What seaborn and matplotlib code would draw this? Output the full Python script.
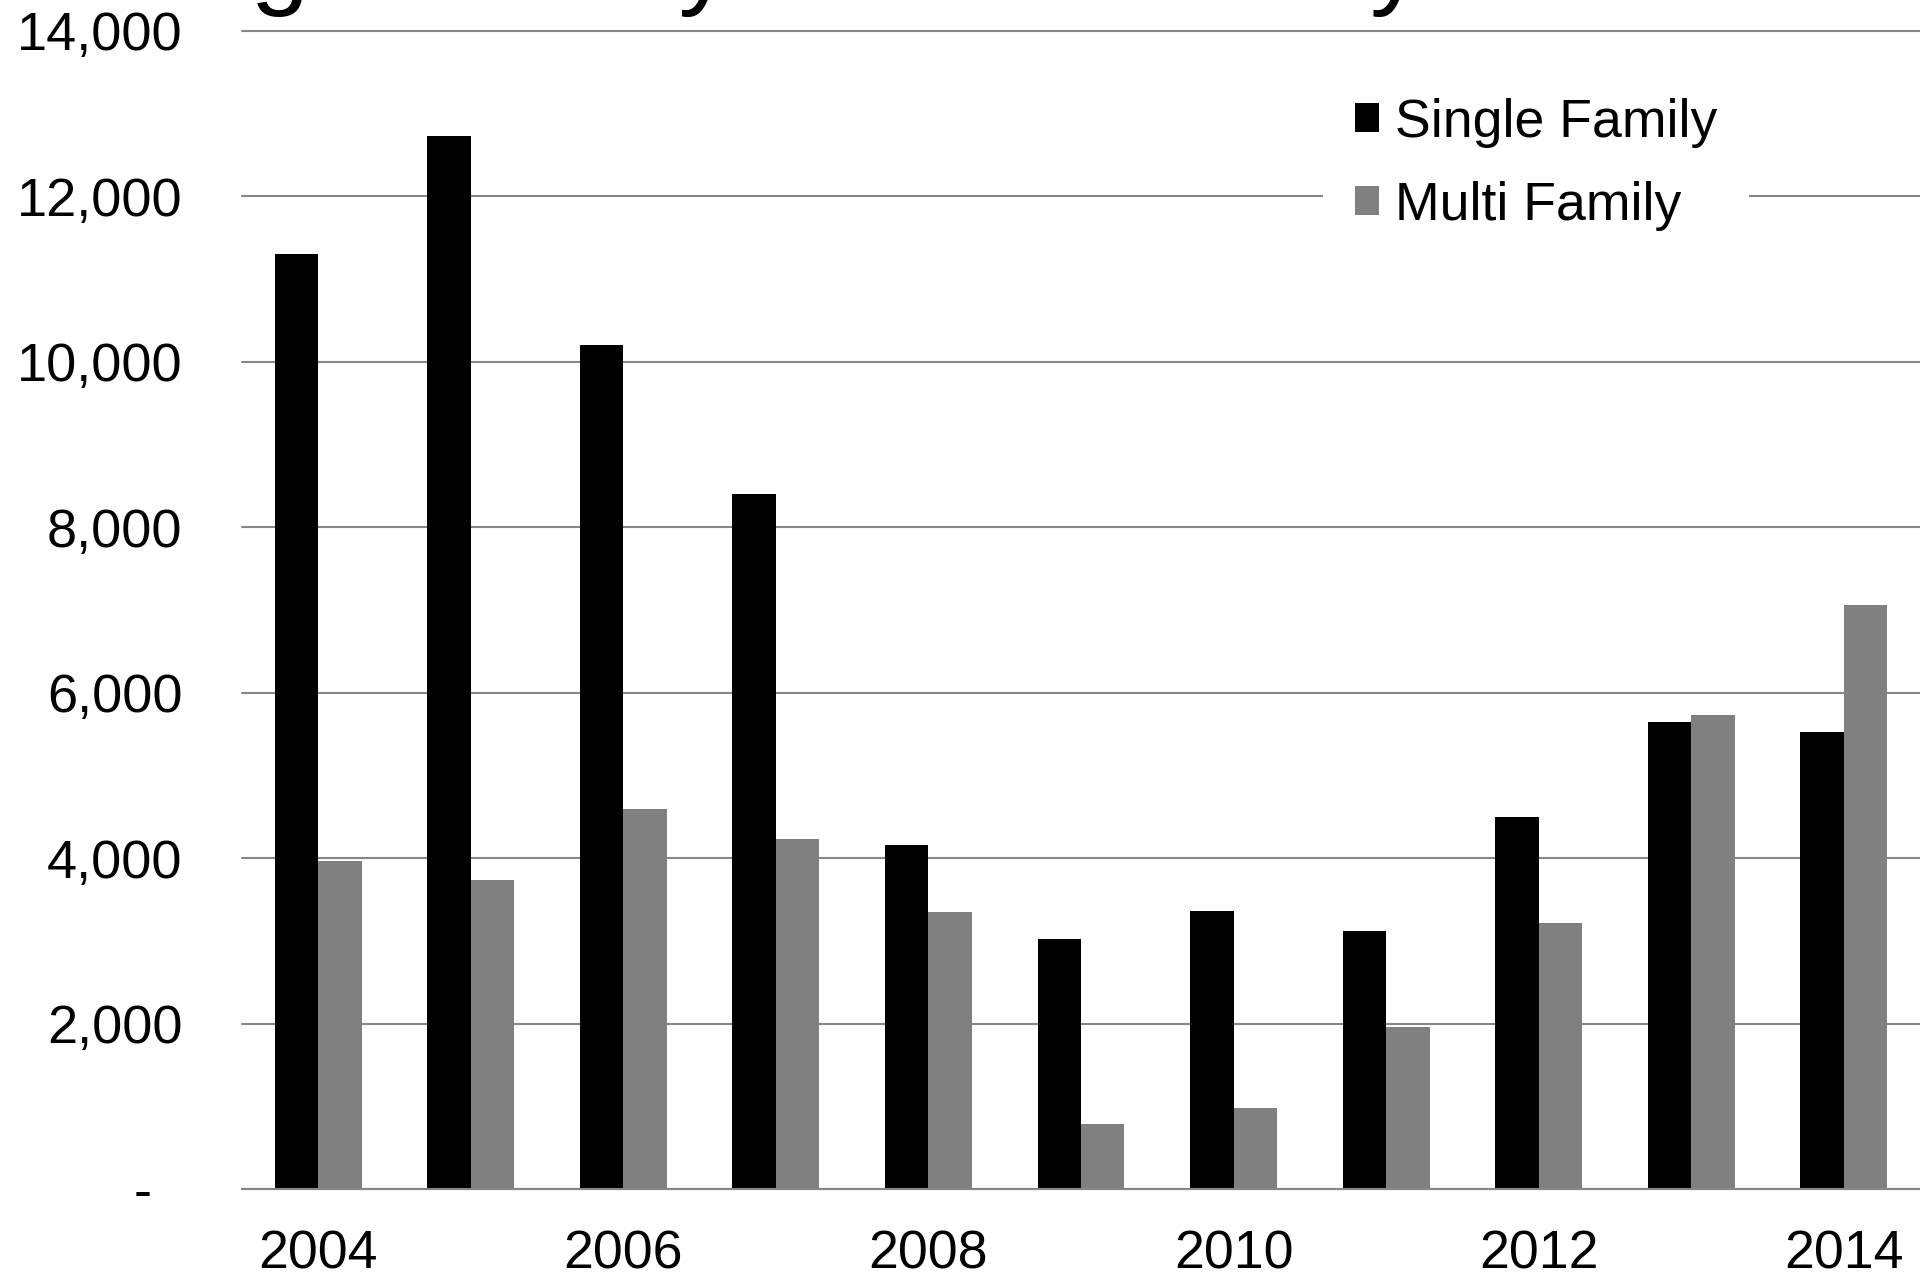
import matplotlib
matplotlib.use('Agg')
import matplotlib.pyplot as plt
import seaborn as sns
import pandas as pd

# Data
years = [2004, 2005, 2006, 2007, 2008, 2009, 2010, 2011, 2012, 2013, 2014]
single_family = [11300, 12730, 10200, 8400, 4160, 3020, 3360, 3120, 4490, 5640, 5520]
multi_family = [3970, 3740, 4590, 4230, 3345, 785, 980, 1955, 3220, 5730, 7055]
series = ['Single Family', 'Multi Family']
ytick_vals = [0, 2000, 4000, 6000, 8000, 10000, 12000, 14000]
ytick_labels = ['-  ', '2,000', '4,000', '6,000', '8,000', '10,000', '12,000', '14,000']
title = 'Single Family vs. Multifamily'

df = pd.DataFrame({
    'year': years * 2,
    'value': single_family + multi_family,
    'type': [series[0]] * len(years) + [series[1]] * len(years),
})

sns.set_style('white')
plt.rcParams['font.family'] = ['Liberation Sans', 'DejaVu Sans']
plt.rcParams['text.color'] = 'black'
plt.rcParams['xtick.color'] = 'black'
plt.rcParams['ytick.color'] = 'black'

W, H = 1920, 1276
fig = plt.figure(figsize=(W / 100, H / 100), dpi=100)
left, bottom, top = 242, 1189, 30.6
ax = fig.add_axes([left / W, (H - bottom) / H, 1 - left / W, (bottom - top) / H])

sns.barplot(data=df, x='year', y='value', hue='type', ax=ax,
            palette=['#000000', '#808080'], width=0.57, gap=0,
            saturation=1, edgecolor='none', linewidth=0)

ax.set_xlim(-0.5, len(years) - 0.5)
ax.set_ylim(0, 14000)
ax.set_xlabel('')
ax.set_ylabel('')

# Only even years labelled
ax.set_xticks(range(0, len(years), 2))
ax.set_xticklabels([str(y) for y in years[::2]], fontsize=38.6)
ax.set_yticks(ytick_vals)
ax.set_yticklabels(ytick_labels, fontsize=39)
ax.tick_params(axis='x', length=0, pad=29)
ax.tick_params(axis='y', length=0, pad=43)

ax.yaxis.grid(True, color='#868686', linewidth=1.5)
ax.set_axisbelow(True)
for line in ax.get_ygridlines():
    line.set_clip_on(False)
for s in ['top', 'right', 'left']:
    ax.spines[s].set_visible(False)
ax.spines['bottom'].set_color('#868686')
ax.spines['bottom'].set_linewidth(1.5)

handles, labels = ax.get_legend_handles_labels()
leg = ax.legend(handles, labels, loc='center', bbox_to_anchor=(0.800, 0.8712),
                bbox_transform=fig.transFigure, fontsize=38.6, frameon=True,
                facecolor='white', edgecolor='none', framealpha=1,
                handlelength=0.45, handleheight=0.45, handletextpad=0.3,
                labelspacing=0.62, borderpad=0.6)
leg.get_frame().set_linewidth(0)

# title, cut off at the top edge of the picture (as in the reference)
fig.text(0.051, 1.004, title, fontsize=76, va='baseline', ha='left')

fig.savefig('out.png', dpi=100)
